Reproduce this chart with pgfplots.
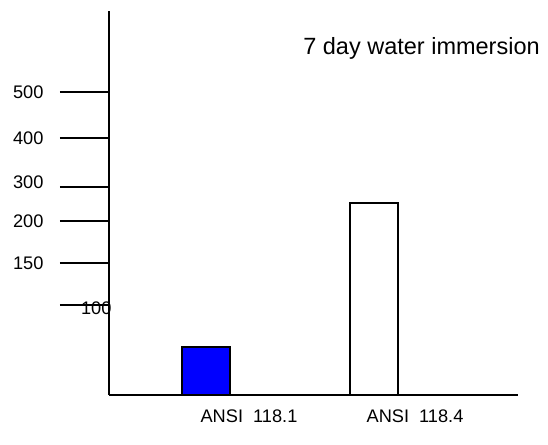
\documentclass[border=0pt]{standalone}
\usepackage{pgfplots}
\pgfplotsset{compat=1.18}
\usepackage{fontspec}
\setmainfont{Liberation Sans}
\begin{document}
\begin{tikzpicture}
\begin{axis}[
  x=1bp, y=1bp,
  xmin=109, xmax=518,
  ymin=0, ymax=384,
  clip=false,
  axis x line=bottom, axis y line=left,
  axis line style={-, line width=1.4bp},
  ytick={303,257,208,174,132},
  yticklabels={500,400,\raisebox{10bp}{300},200,150},
  extra y ticks={90},
  extra y tick labels={100},
  extra y tick style={yticklabel style={xshift=68bp, yshift=-3bp}},
  tick align=outside,
  major tick length=49bp,
  ytick style={line width=1.3bp, black},
  xtick={249,415},
  xticklabels={ANSI\ \ 118.1, ANSI\ \ 118.4},
  xtick style={draw=none},
  ticklabel style={font=\fontsize{18.2bp}{20bp}\selectfont},
  yticklabel style={anchor=east, xshift=-13bp},
  xticklabel style={inner sep=0pt, yshift=34.7bp},
]
\path (axis cs:0,-29) rectangle (axis cs:548,395);
\addplot[ybar, bar width=48bp, bar shift=0pt, fill={rgb,255:red,0;green,0;blue,255}, draw=black, line width=1.3bp]
  coordinates {(206,48)};
\addplot[ybar, bar width=48bp, bar shift=0pt, fill=white, draw=black, line width=1.3bp]
  coordinates {(374,192)};
\node[font=\fontsize{23.5bp}{27bp}\selectfont] at (axis cs:421.5,347) {7 day water immersion};
\end{axis}
\end{tikzpicture}
\end{document}
